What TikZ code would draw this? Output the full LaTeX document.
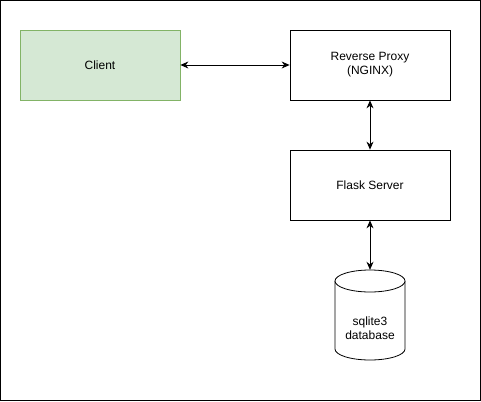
\documentclass[tikz,border=0pt]{standalone}
\usepackage{fontspec}
\setmainfont{Liberation Sans}
\usetikzlibrary{arrows.meta}
\definecolor{clientfill}{HTML}{D5E8D4}
\definecolor{clientdraw}{HTML}{82B366}
\begin{document}
\begin{tikzpicture}[x=1pt,y=-1pt,
  box/.style={draw=black, fill=white, line width=0.8pt, minimum width=160pt, minimum height=70pt, inner sep=0pt, align=center, font=\fontsize{12}{14}\selectfont},
  conn/.style={line width=0.8pt, {Stealth[length=8pt,width=7pt]}-{Stealth[length=8pt,width=7pt]}},
  lbl/.style={align=center, font=\fontsize{12}{14}\selectfont}]
\useasboundingbox (0,0) rectangle (481,401);
\draw[line width=0.8pt] (0.5,0.5) rectangle (480.5,400.5);
\node[box, fill=clientfill, draw=clientdraw] (client) at (100,65) {Client};
\node[box] (proxy) at (370,65) {Reverse Proxy\\(NGINX)};
\node[box] (flask) at (370,185) {Flask Server};
\node[minimum width=70pt, minimum height=90pt, inner sep=0pt] (db) at (370,315) {};
\draw[line width=0.8pt, fill=white] (335,281) -- (335,349) arc[start angle=180, end angle=0, x radius=35, y radius=11] -- (405,281);
\draw[line width=0.8pt, fill=white] (370,281) ellipse [x radius=35, y radius=11];
\node[lbl] (dblabel) at (370,328) {sqlite3\\database};
\draw[conn] (client) -- (proxy);
\draw[conn] (proxy) -- (flask);
\draw[conn] (flask) -- (db.north);
\end{tikzpicture}
\end{document}
